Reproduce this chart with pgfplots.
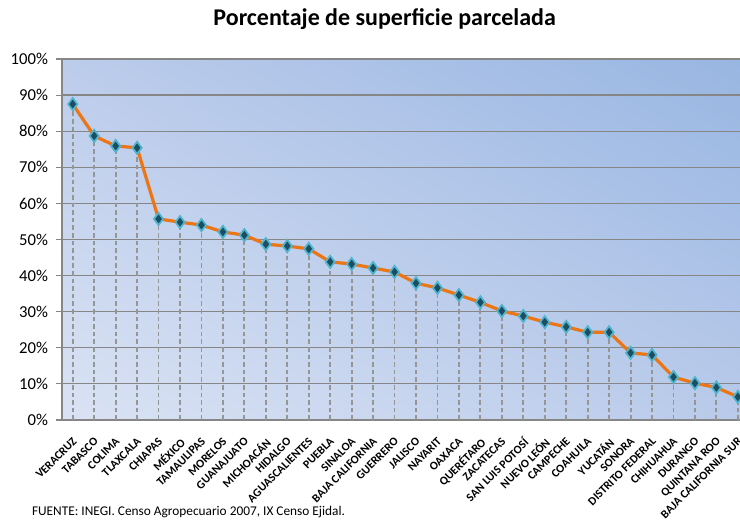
\documentclass[border=0pt]{standalone}
\usepackage{fontspec}
\setmainfont{Carlito}
\usepackage{pgfplots}
\pgfplotsset{compat=1.18}
\usetikzlibrary{calc, shadings}

\definecolor{lineorange}{RGB}{236,118,22}
\definecolor{markdark}{RGB}{28,78,98}
\definecolor{markrim}{RGB}{80,180,206}
\definecolor{gridgray}{RGB}{134,134,134}
\definecolor{dropgray}{RGB}{150,150,150}
\definecolor{bgul}{HTML}{BCCCEB}
\definecolor{bgll}{HTML}{DAE3F4}
\definecolor{bgur}{HTML}{98B6E2}
\definecolor{bglr}{HTML}{B9CAEA}

\pgfplotstableread{
x  v
0  87.5
1  78.7
2  75.9
3  75.4
4  55.7
5  54.8
6  54.0
7  52.1
8  51.2
9  48.7
10 48.2
11 47.4
12 43.8
13 43.2
14 42.1
15 41.0
16 37.9
17 36.6
18 34.6
19 32.6
20 30.2
21 28.8
22 27.1
23 25.8
24 24.3
25 24.3
26 18.6
27 18.0
28 11.9
29 10.2
30 9.0
31 6.4
}\parcelada

\begin{document}
\begin{tikzpicture}
\begin{axis}[
    scale only axis,
    width=508.5pt,
    height=270.75pt,
    xmin=-0.5, xmax=31.1,
    ymin=0, ymax=100,
    clip=false,
    axis x line*=bottom,
    axis y line*=left,
    axis line style={gridgray, line width=0.8pt},
    axis background/.style={shade, lower left=bgll, upper left=bgul, upper right=bgur, lower right=bglr},
    ytick={0,10,...,100},
    /pgf/number format/assume math mode=true,
    yticklabel={\pgfmathprintnumber{\tick}\%},
    yticklabel style={font=\fontsize{12.5}{13}\selectfont, xshift=-2.5pt},
    ytick style={gridgray, line width=0.8pt},
    tick align=outside,
    major tick length=4.5pt,
    ymajorgrids=true,
    grid style={gridgray, line width=0.9pt},
    xtick={0,...,31},
    xtick style={draw=none},
    xticklabels={VERACRUZ, TABASCO, COLIMA, TLAXCALA, CHIAPAS, MÉXICO, TAMAULIPAS, MORELOS, GUANAJUATO, MICHOACÁN, HIDALGO, AGUASCALIENTES, PUEBLA, SINALOA, BAJA CALIFORNIA, GUERRERO, JALISCO, NAYARIT, OAXACA, QUERÉTARO, ZACATECAS, SAN LUIS POTOSÍ, NUEVO LEÓN, CAMPECHE, COAHUILA, YUCATÁN, SONORA, DISTRITO FEDERAL, CHIHUAHUA, DURANGO, QUINTANA ROO, BAJA CALIFORNIA SUR},
    xticklabel style={font=\bfseries\fontsize{8.8}{9.5}\selectfont, rotate=45, anchor=north east, inner sep=0.5pt, yshift=-4.5pt, xshift=-5.5pt},
]
\coordinate (bl) at (rel axis cs:0,0);
\coordinate (tr) at (rel axis cs:1,1);
\addplot[ycomb, dropgray, line width=1.4pt, dash pattern=on 3.5pt off 2.2pt] table[x=x, y=v] {\parcelada};
\addplot[lineorange, line width=2.4pt, mark=diamond*, mark size=4.6pt,
    mark options={fill=markdark, draw=markrim, line width=1.3pt, solid}] table[x=x, y=v] {\parcelada};
\end{axis}
\pgfresetboundingbox
\path[use as bounding box] ($(bl)+(-46.5pt,-75pt)$) rectangle ($(tr)+(0pt,44.25pt)$);
\node[font=\bfseries\fontsize{18}{21}\selectfont] at ($(bl)+(242pt,301pt)$) {Porcentaje de superficie parcelada};
\node[anchor=base west, font=\fontsize{10}{12}\selectfont] at ($(bl)+(-26pt,-71.5pt)$) {FUENTE: INEGI. Censo Agropecuario 2007, IX Censo Ejidal.};
\end{tikzpicture}
\end{document}
